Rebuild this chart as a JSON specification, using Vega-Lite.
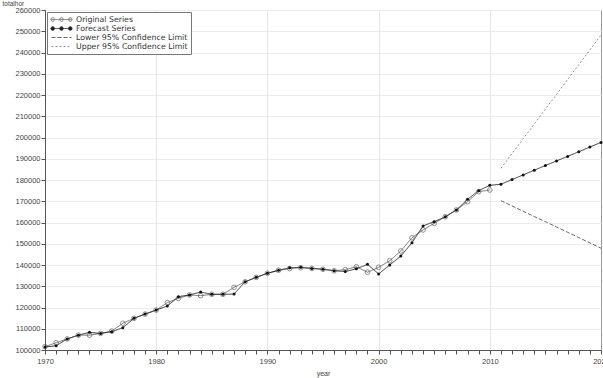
{
  "$schema": "https://vega.github.io/schema/vega-lite/v6.json",
  "autosize": {"type": "none"},
  "width": 556,
  "height": 340,
  "padding": {"left": 45, "top": 10, "right": 2, "bottom": 28},
  "background": "white",
  "config": {
    "view": {"stroke": "#999", "strokeWidth": 1},
    "font": "Liberation Sans",
    "axis": {"labelFont": "Liberation Sans", "titleFont": "Liberation Sans", "labelFontSize": 7.5, "labelColor": "#444", "titleFontSize": 7.5, "titleFontWeight": "normal", "titleColor": "#444", "tickColor": "#555", "domainColor": "#555", "tickSize": 4, "gridColor": "#ececec", "gridWidth": 1}
  },
  "data": {"values": [
    {"year": 1970, "series": "Original Series", "value": 101600},
    {"year": 1971, "series": "Original Series", "value": 103400},
    {"year": 1972, "series": "Original Series", "value": 105200},
    {"year": 1973, "series": "Original Series", "value": 107000},
    {"year": 1974, "series": "Original Series", "value": 107000},
    {"year": 1975, "series": "Original Series", "value": 107800},
    {"year": 1976, "series": "Original Series", "value": 108900},
    {"year": 1977, "series": "Original Series", "value": 112600},
    {"year": 1978, "series": "Original Series", "value": 114900},
    {"year": 1979, "series": "Original Series", "value": 116900},
    {"year": 1980, "series": "Original Series", "value": 118800},
    {"year": 1981, "series": "Original Series", "value": 122300},
    {"year": 1982, "series": "Original Series", "value": 124300},
    {"year": 1983, "series": "Original Series", "value": 125900},
    {"year": 1984, "series": "Original Series", "value": 125600},
    {"year": 1985, "series": "Original Series", "value": 126200},
    {"year": 1986, "series": "Original Series", "value": 126200},
    {"year": 1987, "series": "Original Series", "value": 129500},
    {"year": 1988, "series": "Original Series", "value": 132100},
    {"year": 1989, "series": "Original Series", "value": 134200},
    {"year": 1990, "series": "Original Series", "value": 136100},
    {"year": 1991, "series": "Original Series", "value": 137500},
    {"year": 1992, "series": "Original Series", "value": 138300},
    {"year": 1993, "series": "Original Series", "value": 138700},
    {"year": 1994, "series": "Original Series", "value": 138400},
    {"year": 1995, "series": "Original Series", "value": 138000},
    {"year": 1996, "series": "Original Series", "value": 137300},
    {"year": 1997, "series": "Original Series", "value": 137800},
    {"year": 1998, "series": "Original Series", "value": 139200},
    {"year": 1999, "series": "Original Series", "value": 136600},
    {"year": 2000, "series": "Original Series", "value": 138900},
    {"year": 2001, "series": "Original Series", "value": 142000},
    {"year": 2002, "series": "Original Series", "value": 146600},
    {"year": 2003, "series": "Original Series", "value": 152800},
    {"year": 2004, "series": "Original Series", "value": 156500},
    {"year": 2005, "series": "Original Series", "value": 159600},
    {"year": 2006, "series": "Original Series", "value": 162700},
    {"year": 2007, "series": "Original Series", "value": 165900},
    {"year": 2008, "series": "Original Series", "value": 169800},
    {"year": 2009, "series": "Original Series", "value": 174500},
    {"year": 2010, "series": "Original Series", "value": 175300},
    {"year": 1970, "series": "Forecast Series", "value": 101400},
    {"year": 1971, "series": "Forecast Series", "value": 102000},
    {"year": 1972, "series": "Forecast Series", "value": 105200},
    {"year": 1973, "series": "Forecast Series", "value": 107000},
    {"year": 1974, "series": "Forecast Series", "value": 108300},
    {"year": 1975, "series": "Forecast Series", "value": 107800},
    {"year": 1976, "series": "Forecast Series", "value": 108600},
    {"year": 1977, "series": "Forecast Series", "value": 110500},
    {"year": 1978, "series": "Forecast Series", "value": 114900},
    {"year": 1979, "series": "Forecast Series", "value": 116900},
    {"year": 1980, "series": "Forecast Series", "value": 118800},
    {"year": 1981, "series": "Forecast Series", "value": 120700},
    {"year": 1982, "series": "Forecast Series", "value": 125100},
    {"year": 1983, "series": "Forecast Series", "value": 125900},
    {"year": 1984, "series": "Forecast Series", "value": 127300},
    {"year": 1985, "series": "Forecast Series", "value": 126200},
    {"year": 1986, "series": "Forecast Series", "value": 126200},
    {"year": 1987, "series": "Forecast Series", "value": 126300},
    {"year": 1988, "series": "Forecast Series", "value": 132100},
    {"year": 1989, "series": "Forecast Series", "value": 134200},
    {"year": 1990, "series": "Forecast Series", "value": 136100},
    {"year": 1991, "series": "Forecast Series", "value": 137500},
    {"year": 1992, "series": "Forecast Series", "value": 138700},
    {"year": 1993, "series": "Forecast Series", "value": 138900},
    {"year": 1994, "series": "Forecast Series", "value": 138400},
    {"year": 1995, "series": "Forecast Series", "value": 138000},
    {"year": 1996, "series": "Forecast Series", "value": 137300},
    {"year": 1997, "series": "Forecast Series", "value": 136900},
    {"year": 1998, "series": "Forecast Series", "value": 138200},
    {"year": 1999, "series": "Forecast Series", "value": 140300},
    {"year": 2000, "series": "Forecast Series", "value": 135800},
    {"year": 2001, "series": "Forecast Series", "value": 140000},
    {"year": 2002, "series": "Forecast Series", "value": 144200},
    {"year": 2003, "series": "Forecast Series", "value": 150500},
    {"year": 2004, "series": "Forecast Series", "value": 158400},
    {"year": 2005, "series": "Forecast Series", "value": 160400},
    {"year": 2006, "series": "Forecast Series", "value": 162700},
    {"year": 2007, "series": "Forecast Series", "value": 165900},
    {"year": 2008, "series": "Forecast Series", "value": 170900},
    {"year": 2009, "series": "Forecast Series", "value": 175000},
    {"year": 2010, "series": "Forecast Series", "value": 177500},
    {"year": 2011, "series": "Forecast Series", "value": 178000},
    {"year": 2012, "series": "Forecast Series", "value": 180200},
    {"year": 2013, "series": "Forecast Series", "value": 182400},
    {"year": 2014, "series": "Forecast Series", "value": 184600},
    {"year": 2015, "series": "Forecast Series", "value": 186800},
    {"year": 2016, "series": "Forecast Series", "value": 189000},
    {"year": 2017, "series": "Forecast Series", "value": 191100},
    {"year": 2018, "series": "Forecast Series", "value": 193300},
    {"year": 2019, "series": "Forecast Series", "value": 195500},
    {"year": 2020, "series": "Forecast Series", "value": 197700},
    {"year": 2011, "series": "Lower 95% Confidence Limit", "value": 170300},
    {"year": 2012, "series": "Lower 95% Confidence Limit", "value": 167800},
    {"year": 2013, "series": "Lower 95% Confidence Limit", "value": 165300},
    {"year": 2014, "series": "Lower 95% Confidence Limit", "value": 162800},
    {"year": 2015, "series": "Lower 95% Confidence Limit", "value": 160400},
    {"year": 2016, "series": "Lower 95% Confidence Limit", "value": 157900},
    {"year": 2017, "series": "Lower 95% Confidence Limit", "value": 155400},
    {"year": 2018, "series": "Lower 95% Confidence Limit", "value": 152900},
    {"year": 2019, "series": "Lower 95% Confidence Limit", "value": 150400},
    {"year": 2020, "series": "Lower 95% Confidence Limit", "value": 147900},
    {"year": 2011, "series": "Upper 95% Confidence Limit", "value": 185500},
    {"year": 2012, "series": "Upper 95% Confidence Limit", "value": 192500},
    {"year": 2013, "series": "Upper 95% Confidence Limit", "value": 199400},
    {"year": 2014, "series": "Upper 95% Confidence Limit", "value": 206400},
    {"year": 2015, "series": "Upper 95% Confidence Limit", "value": 213400},
    {"year": 2016, "series": "Upper 95% Confidence Limit", "value": 220300},
    {"year": 2017, "series": "Upper 95% Confidence Limit", "value": 227300},
    {"year": 2018, "series": "Upper 95% Confidence Limit", "value": 234300},
    {"year": 2019, "series": "Upper 95% Confidence Limit", "value": 241200},
    {"year": 2020, "series": "Upper 95% Confidence Limit", "value": 248200}
  ]},
  "encoding": {
    "x": {"field": "year", "type": "quantitative",
      "scale": {"domain": [1970, 2020], "nice": false, "zero": false},
      "axis": {"title": "year", "values": [1970,1971,1972,1973,1974,1975,1976,1977,1978,1979,1980,1981,1982,1983,1984,1985,1986,1987,1988,1989,1990,1991,1992,1993,1994,1995,1996,1997,1998,1999,2000,2001,2002,2003,2004,2005,2006,2007,2008,2009,2010,2011,2012,2013,2014,2015,2016,2017,2018,2019,2020],
        "labelExpr": "datum.value % 10 == 0 ? datum.value : ''",
        "labelOverlap": false, "labelFlush": false,
        "gridColor": {"condition": {"test": "datum.value % 10 == 0 && datum.value > 1970 && datum.value < 2020", "value": "#e6e6e6"}, "value": "transparent"},
        "tickSize": 4, "labelPadding": 3, "titlePadding": 5, "titleFontSize": 7}},
    "y": {"field": "value", "type": "quantitative",
      "scale": {"domain": [100000, 260000], "nice": false, "zero": false},
      "axis": {"title": "totalhor", "values": [100000,110000,120000,130000,140000,150000,160000,170000,180000,190000,200000,210000,220000,230000,240000,250000,260000],
        "format": "d", "labelPadding": 1, "titleAngle": 0, "titleAlign": "left", "titleBaseline": "alphabetic", "titleX": -43, "titleY": -4.5, "titleFontSize": 6.5}}
  },
  "layer": [
    {
      "mark": {"type": "line", "strokeWidth": 0.9},
      "encoding": {
        "color": {"field": "series", "type": "nominal",
          "scale": {"domain": ["Original Series", "Forecast Series", "Lower 95% Confidence Limit", "Upper 95% Confidence Limit"], "range": ["#666666", "#222222", "#555555", "#888888"]},
          "legend": {"title": null, "orient": "top-left", "offset": 2, "padding": 3, "strokeColor": "#777", "fillColor": "white",
            "labelFont": "DejaVu Sans", "labelFontSize": 7.8, "labelColor": "#333", "symbolSize": 64, "rowPadding": 0, "symbolOffset": 7, "labelOffset": 10, "symbolStrokeWidth": 0.9,
            "encode": {"symbols": {"update": {
              "shape": {"signal": "datum.value === 'Original Series' || datum.value === 'Forecast Series' ? 'M-2.5,0L2.5,0M-1.75,0A0.45,0.45 0 1,1 -2.65,0A0.45,0.45 0 1,1 -1.75,0M0.45,0A0.45,0.45 0 1,1 -0.45,0A0.45,0.45 0 1,1 0.45,0M2.65,0A0.45,0.45 0 1,1 1.75,0A0.45,0.45 0 1,1 2.65,0' : 'M-2.5,0L2.5,0'"},
              "fill": {"signal": "datum.value === 'Forecast Series' ? '#222222' : datum.value === 'Original Series' ? '#ffffff' : 'transparent'"}
            }}}}},
        "strokeDash": {"field": "series", "type": "nominal",
          "scale": {"domain": ["Original Series", "Forecast Series", "Lower 95% Confidence Limit", "Upper 95% Confidence Limit"], "range": [[1, 0], [1, 0], [4, 2], [2, 2]]},
          "legend": null}
      }
    },
    {
      "transform": [{"filter": "datum.series === 'Original Series'"}],
      "mark": {"type": "point", "shape": "circle", "filled": false, "size": 22, "stroke": "#555555", "strokeWidth": 0.9}
    },
    {
      "transform": [{"filter": "datum.series === 'Forecast Series'"}],
      "mark": {"type": "point", "shape": "circle", "filled": true, "size": 9, "fill": "#111111", "opacity": 1}
    }
  ]
}
